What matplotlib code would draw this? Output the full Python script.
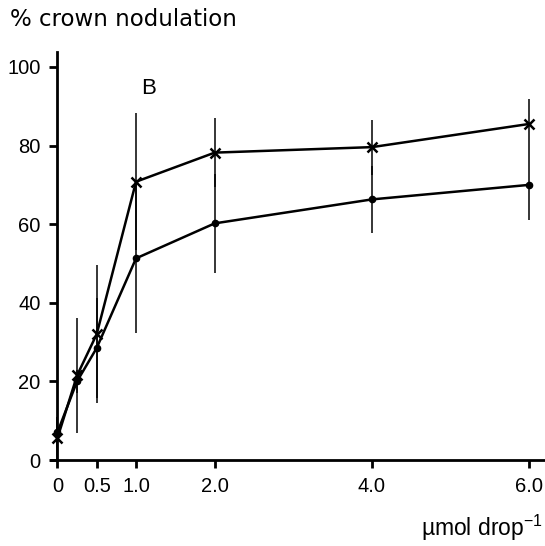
import matplotlib
matplotlib.use("Agg")
import matplotlib.pyplot as plt

plt.rcParams['font.family'] = ['Liberation Sans', 'DejaVu Sans']
plt.rcParams['mathtext.fontset'] = 'custom'
plt.rcParams['mathtext.rm'] = 'Liberation Sans'
plt.rcParams['mathtext.default'] = 'regular'

# data
x = [0, 0.25, 0.5, 1.0, 2.0, 4.0, 6.0]
cross = [5.5, 21.5, 32.0, 70.8, 78.2, 79.6, 85.5]
cross_err = [5.5, 14.6, 17.5, 17.4, 8.8, 7.0, 6.3]
dot = [7.0, 20.0, 28.5, 51.3, 60.2, 66.3, 70.0]
dot_err = [4.0, 3.0, 12.7, 19.0, 12.5, 8.5, 9.0]
xticks = [0, 0.5, 1.0, 2.0, 4.0, 6.0]
xticklabels = ['0', '0.5', '1.0', '2.0', '4.0', '6.0']
yticks = [0, 20, 40, 60, 80, 100]

W, H = 545, 546
fig = plt.figure(figsize=(W / 100, H / 100), dpi=100)
left_px, right_px, bottom_px, top_px = 51.4, 545, 460, 52
ax = fig.add_axes([left_px / W, 1 - bottom_px / H, (right_px - left_px) / W, (bottom_px - top_px) / H])
ax.set_xlim(-0.076, 6.2)
ax.set_ylim(0, 103.8)

ax.errorbar(x, cross, yerr=cross_err, fmt='none', ecolor='black', elinewidth=1.1, capsize=0, clip_on=False)
ax.errorbar(x, dot, yerr=dot_err, fmt='none', ecolor='black', elinewidth=1.1, capsize=0, clip_on=False)
ax.plot(x, cross, color='black', lw=1.8, marker='x', ms=7, mew=1.8, clip_on=False, zorder=3)
ax.plot(x, dot, color='black', lw=1.8, marker='o', ms=4.5, clip_on=False, zorder=3)

for s in ['top', 'right']:
    ax.spines[s].set_visible(False)
ax.spines['left'].set_position(('data', 0))
ax.spines['left'].set_linewidth(2.0)
ax.spines['bottom'].set_linewidth(2.0)

ax.set_xticks(xticks)
ax.set_xticklabels(xticklabels)
ax.set_yticks(yticks)
ax.tick_params(axis='both', direction='out', length=6, width=2.0, labelsize=14.5, pad=6)

ax.text(1.165, 94.4, 'B', fontsize=16, ha='center', va='center')
fig.text(10 / W, 1 - 19 / H, '% crown nodulation', fontsize=16.5, ha='left', va='center',
         family='DejaVu Sans')
fig.text(543 / W, 1 - 536 / H, 'µmol drop$^{-1}$', fontsize=16.5, ha='right', va='baseline')

fig.savefig('out.png', dpi=100)
